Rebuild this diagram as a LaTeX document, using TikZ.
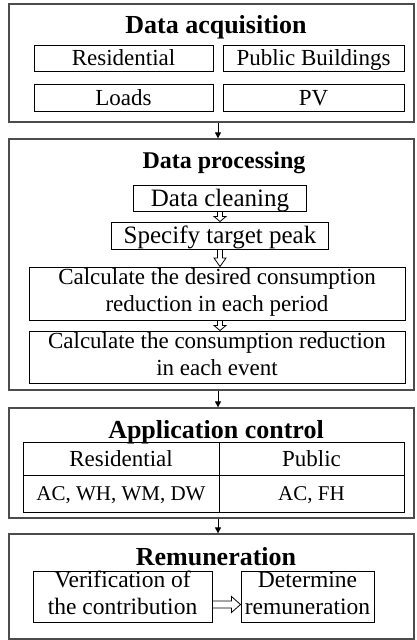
\documentclass[tikz,border=0pt]{standalone}
\usepackage{fontspec}
\setmainfont{Liberation Serif}
\usetikzlibrary{arrows.meta,calc}
% struts that make the capitals of a node's text sit in its middle
\newcommand\capsup{\rule{0pt}{0.955em}}
\newcommand\capsdown{\rule[-0.3em]{0pt}{0.3em}}
\begin{document}
\begin{tikzpicture}[x=1pt,y=-1pt]
\tikzset{
  frame/.style={draw=black!70, line width=1.3pt, inner sep=0pt},
  capcenter/.style={execute at begin node=\capsup, execute at end node=\capsdown,
    inner xsep=0pt, inner ysep=-6pt},
  box/.style={draw, line width=1pt, align=center, capcenter,
    font=\fontsize{23}{27}\selectfont},
  bigbox/.style={box, font=\fontsize{25}{29}\selectfont},
  remubox/.style={box, font=\fontsize{23.5}{27}\selectfont},
  cell/.style={draw, line width=1pt, capcenter,
    font=\fontsize{23}{26}\selectfont},
  smallcell/.style={cell, font=\fontsize{21}{24}\selectfont},
  title/.style={anchor=base, inner sep=0pt,
    font=\fontsize{26}{30}\selectfont\bfseries},
  conn/.style={line width=1pt, -{Triangle[length=6pt,width=6pt]}},
  hollowv/.style={draw, line width=0.8pt, to path={
    let \p1=(\tikztostart), \p2=(\tikztotarget) in
    (\x1-2.5pt,\y1) -- (\x1-2.5pt,{(\y1+\y2)/2}) -- (\x1-6pt,{(\y1+\y2)/2})
    -- (\x1,\y2) -- (\x1+6pt,{(\y1+\y2)/2}) -- (\x1+2.5pt,{(\y1+\y2)/2})
    -- (\x1+2.5pt,\y1)}},
  hollowh/.style={draw, line width=0.8pt, to path={
    let \p1=(\tikztostart), \p2=(\tikztotarget) in
    (\x1,\y1+3.5pt) -- (\x2-9pt,\y1+3.5pt) -- (\x2-9pt,\y1+8pt)
    -- (\x2,\y1) -- (\x2-9pt,\y1-8pt) -- (\x2-9pt,\y1-3.5pt)
    -- (\x1,\y1-3.5pt)}}
}
\useasboundingbox (0,0) rectangle (416,640);

% Data acquisition
\node[frame, minimum width=405pt, minimum height=118pt] (f1) at (211.5,63) {};
\node[title] (t1) at (216,33) {Data acquisition};
\node[box, minimum width=179pt, minimum height=26pt] (res) at (123.5,58) {Residential};
\node[box, minimum width=181pt, minimum height=26pt] (pub) at (313.5,58) {Public Buildings};
\node[box, minimum width=179pt, minimum height=27pt] (loads) at (123.5,97.5) {Loads};
\node[box, minimum width=181pt, minimum height=27pt] (pv) at (313.5,97.5) {PV};

% Data processing
\node[frame, minimum width=405pt, minimum height=251pt] (f2) at (211.5,264.5) {};
\node[title, font=\fontsize{24}{28}\selectfont\bfseries] (t2) at (224,168) {Data processing};
\node[bigbox, minimum width=173pt, minimum height=26pt] (dc) at (220,198) {Data cleaning};
\node[bigbox, minimum width=217pt, minimum height=27pt] (sp) at (220,235.5) {Specify target peak};
\node[box, minimum width=376pt, minimum height=53pt] (cd) at (217,293.5)
  {Calculate the desired consumption\\reduction in each period};
\node[box, minimum width=376pt, minimum height=52pt] (cr) at (217,357)
  {Calculate the consumption reduction\\in each event};
\draw[hollowv] (dc.south) to (sp.north);
\draw[hollowv] (sp.south) to (sp.south |- cd.north);
\draw[hollowv] (sp.south |- cd.south) to (sp.south |- cr.north);

% Application control
\node[frame, minimum width=405pt, minimum height=110pt] (f3) at (211.5,463) {};
\node[title] (t3) at (216,438) {Application control};
\node[cell, minimum width=196pt, minimum height=33pt] (rh) at (121,458.5) {Residential};
\node[cell, minimum width=185pt, minimum height=33pt] (ph) at (311.5,458.5) {Public};
\node[smallcell, minimum width=196pt, minimum height=37pt] (rl) at (121,493.5) {AC, WH, WM, DW};
\node[smallcell, minimum width=185pt, minimum height=37pt] (pl) at (311.5,493.5) {AC, FH};

% Remuneration
\node[frame, minimum width=405pt, minimum height=105pt] (f4) at (211.5,586.5) {};
\node[title] (t4) at (216,565) {Remuneration};
\node[remubox, minimum width=179pt, minimum height=51pt] (ver) at (122.5,596.5)
  {Verification of\\the contribution};
\node[remubox, minimum width=133pt, minimum height=51pt] (det) at (307.5,596.5)
  {Determine\\remuneration};
\draw[hollowh] ([yshift=-8pt]ver.east) to ([yshift=-8pt]det.west);

% Links between stages
\draw[conn] ([xshift=6.5pt]f1.south) -- ([xshift=6.5pt]f2.north);
\draw[conn] ([xshift=6.5pt]f2.south) -- ([xshift=6.5pt]f3.north);
\draw[conn] ([xshift=6.5pt]f3.south) -- ([xshift=6.5pt]f4.north);
\end{tikzpicture}
\end{document}
